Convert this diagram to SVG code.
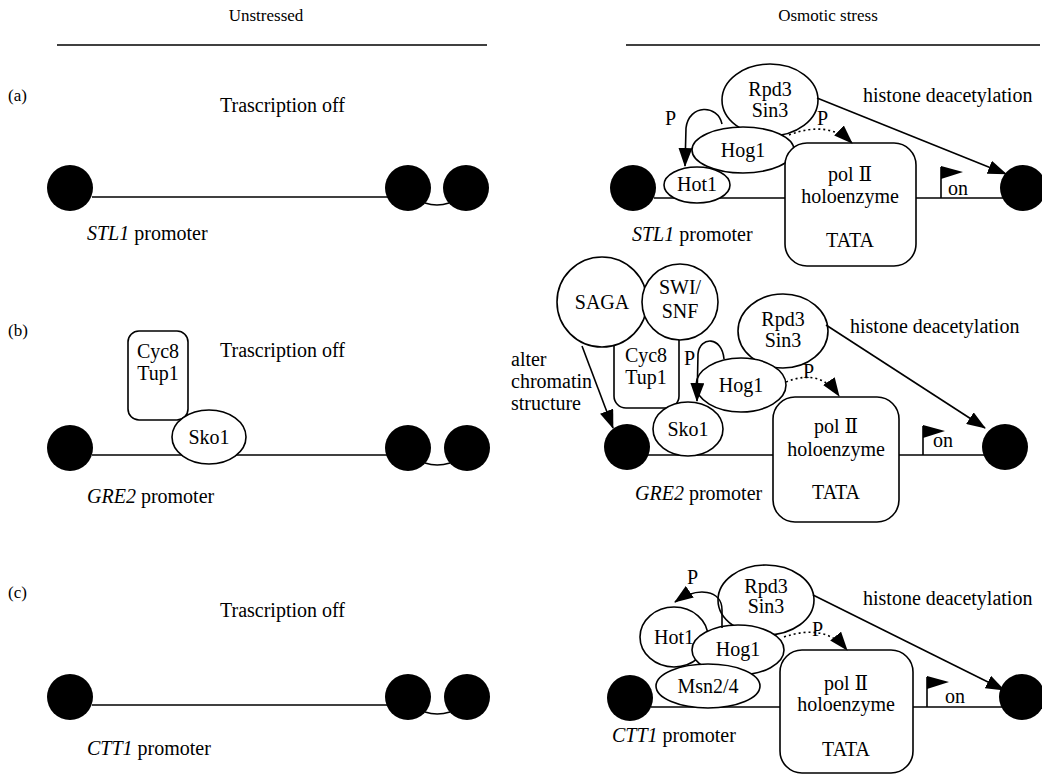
<svg xmlns="http://www.w3.org/2000/svg" width="1042" height="775" viewBox="0 0 1042 775" font-family="Liberation Serif, serif">
<defs>
<style>
text{font-family:'Liberation Serif',serif;font-size:20px;fill:#000}
.h{font-size:17px}
.m{text-anchor:middle}
.i{font-style:italic}
.nuc{fill:#000}
.o{fill:#fff;stroke:#000;stroke-width:1.6}
.ln{stroke:#000;stroke-width:1.6;fill:none}
.ar{stroke:#000;stroke-width:1.6;fill:none;marker-end:url(#ah)}
.dt{stroke:#000;stroke-width:1.6;fill:none;stroke-dasharray:2 3;marker-end:url(#ah)}
.fl{fill:#000}
.rn{font-family:'DejaVu Serif','Liberation Serif',serif}
</style>
<marker id="ah" markerUnits="userSpaceOnUse" markerWidth="20" markerHeight="14" refX="18" refY="7" orient="auto"><path d="M0,0 L19,7 L0,14 z"/></marker>
</defs>
<rect x="0" y="0" width="1042" height="775" fill="#fff"/>

<!-- headers -->
<g id="headers">
<text class="h m" x="266" y="21">Unstressed</text>
<line class="ln" x1="57" y1="45" x2="487" y2="45"/>
<text class="h m" x="828" y="21">Osmotic stress</text>
<line class="ln" x1="626" y1="45" x2="1040" y2="45"/>
<text class="h" x="8" y="101">(a)</text>
<text class="h" x="8" y="336">(b)</text>
<text class="h" x="8" y="598">(c)</text>
</g>

<!-- DNA strands -->
<g id="dna">
<line class="ln" x1="92" y1="197" x2="388" y2="197"/>
<line class="ln" x1="92" y1="455" x2="388" y2="455"/>
<line class="ln" x1="92" y1="705" x2="388" y2="705"/>
<line class="ln" x1="654" y1="198" x2="1003" y2="198"/>
<line class="ln" x1="648" y1="455" x2="985" y2="455"/>
<line class="ln" x1="651" y1="707" x2="1002" y2="707"/>
</g>

<!-- (a) unstressed -->
<g id="a-left">
<text x="220" y="112">Trascription off</text>
<circle class="nuc" cx="70" cy="188" r="23"/>
<circle class="nuc" cx="408" cy="188" r="23"/>
<circle class="nuc" cx="466" cy="188" r="23"/>
<text x="87" y="240"><tspan class="i">STL1</tspan> promoter</text>
</g>

<!-- (b) unstressed -->
<g id="b-left">
<text x="220" y="357">Trascription off</text>
<circle class="nuc" cx="70" cy="448" r="23"/>
<circle class="nuc" cx="408" cy="448" r="23"/>
<circle class="nuc" cx="467" cy="448" r="23"/>
<g id="b-left-cyc8">
<rect class="o" x="128" y="331" width="60" height="89" rx="11"/>
<text class="m" x="158" y="358">Cyc8</text>
<text class="m" x="158" y="380">Tup1</text>
</g>
<g id="b-left-sko1">
<ellipse class="o" cx="209" cy="437" rx="37" ry="27"/>
<text class="m" x="209" y="444">Sko1</text>
</g>
<text x="87" y="503"><tspan class="i">GRE2</tspan> promoter</text>
</g>

<!-- (c) unstressed -->
<g id="c-left">
<text x="220" y="617">Trascription off</text>
<circle class="nuc" cx="70" cy="697" r="23"/>
<circle class="nuc" cx="408" cy="697" r="23"/>
<circle class="nuc" cx="467" cy="697" r="23"/>
<text x="87" y="755"><tspan class="i">CTT1</tspan> promoter</text>
</g>

<!-- (a) osmotic stress -->
<g id="a-right">
<circle class="nuc" cx="633" cy="188" r="23"/>
<circle class="nuc" cx="1023" cy="188" r="23"/>
<g id="a-rpd3"><ellipse class="o" cx="770" cy="100" rx="48" ry="36"/>
<text class="m" x="770" y="96">Rpd3</text><text class="m" x="770" y="117">Sin3</text></g>
<g id="a-hog1"><ellipse class="o" cx="743" cy="150" rx="51" ry="23"/>
<text class="m" x="743" y="157">Hog1</text></g>
<g id="a-hot1"><ellipse class="o" cx="697" cy="185" rx="33" ry="18"/>
<text class="m" x="697" y="191">Hot1</text></g>
<g id="a-pol"><rect class="o" x="785" y="143" width="131" height="123" rx="22"/>
<text class="m" x="850" y="181">pol <tspan class="rn">Ⅱ</tspan></text>
<text class="m" x="850" y="203">holoenzyme</text>
<text class="m" x="850" y="247">TATA</text></g>
<text x="665" y="125">P</text>
<text x="817" y="125">P</text>
<text x="948" y="195">on</text>
<text x="863" y="102">histone deacetylation</text>
<text x="632" y="241"><tspan class="i">STL1</tspan> promoter</text>
</g>

<!-- (b) osmotic stress -->
<g id="b-right">
<circle class="nuc" cx="627" cy="447" r="23"/>
<circle class="nuc" cx="1005" cy="447" r="23"/>
<g id="b-cyc8"><rect class="o" x="614" y="315" width="65" height="93" rx="12"/>
<text class="m" x="646" y="362">Cyc8</text><text class="m" x="646" y="384">Tup1</text></g>
<g id="b-saga"><circle class="o" cx="602" cy="302" r="45"/>
<text class="m" x="602" y="309">SAGA</text></g>
<g id="b-swisnf"><circle class="o" cx="680" cy="302" r="38"/>
<text class="m" x="680" y="294">SWI/</text><text class="m" x="680" y="318">SNF</text></g>
<g id="b-rpd3"><ellipse class="o" cx="783" cy="331" rx="45" ry="37"/>
<text class="m" x="783" y="326">Rpd3</text><text class="m" x="783" y="347">Sin3</text></g>
<g id="b-hog1"><ellipse class="o" cx="741" cy="385" rx="45" ry="27"/>
<text class="m" x="741" y="392">Hog1</text></g>
<g id="b-sko1"><ellipse class="o" cx="688" cy="429" rx="35" ry="27"/>
<text class="m" x="688" y="436">Sko1</text></g>
<g id="b-pol"><rect class="o" x="773" y="397" width="126" height="125" rx="22"/>
<text class="m" x="836" y="433">pol <tspan class="rn">Ⅱ</tspan></text>
<text class="m" x="836" y="456">holoenzyme</text>
<text class="m" x="836" y="499">TATA</text></g>
<text x="684" y="365">P</text>
<text x="803" y="378">P</text>
<text x="933" y="447">on</text>
<text x="850" y="333">histone deacetylation</text>
<text x="511" y="366">alter</text>
<text x="511" y="388">chromatin</text>
<text x="511" y="410">structure</text>
<text x="635" y="500"><tspan class="i">GRE2</tspan> promoter</text>
</g>

<!-- (c) osmotic stress -->
<g id="c-right">
<circle class="nuc" cx="630" cy="698" r="23"/>
<circle class="nuc" cx="1022" cy="697" r="23"/>
<g id="c-rpd3"><ellipse class="o" cx="766" cy="600" rx="48" ry="35"/>
<text class="m" x="766" y="593">Rpd3</text><text class="m" x="766" y="613">Sin3</text></g>
<g id="c-hot1"><ellipse class="o" cx="674" cy="637" rx="34" ry="30"/>
<text class="m" x="674" y="644">Hot1</text></g>
<g id="c-hog1"><ellipse class="o" cx="738" cy="650" rx="46" ry="25"/>
<text class="m" x="738" y="656">Hog1</text></g>
<g id="c-msn"><ellipse class="o" cx="708" cy="686" rx="52" ry="22"/>
<text class="m" x="708" y="693">Msn2/4</text></g>
<g id="c-pol"><rect class="o" x="780" y="650" width="133" height="123" rx="22"/>
<text class="m" x="846" y="690">pol <tspan class="rn">Ⅱ</tspan></text>
<text class="m" x="846" y="711">holoenzyme</text>
<text class="m" x="846" y="756">TATA</text></g>
<text x="687" y="584">P</text>
<text x="812" y="636">P</text>
<text x="945" y="703">on</text>
<text x="863" y="605">histone deacetylation</text>
<text x="612" y="742"><tspan class="i">CTT1</tspan> promoter</text>
</g>

<!-- connectors -->
<g id="connectors">
<path class="ln" d="M425,203 Q437,207 449,203"/>
<path class="ln" d="M425,463 Q437,467 450,463"/>
<path class="ln" d="M425,712 Q437,716 450,712"/>
<path class="ar" d="M722,124 C718,104 689,104 686,128 L685,166"/>
<path class="dt" d="M789,135 Q828,120 852,143"/>
<path class="ar" d="M817,98 L1006,174"/>
<path class="ln" d="M941,198 V167"/>
<polygon class="fl" points="941,166 963,172 941,179"/>
<path class="ar" d="M724,359 C722,336 700,336 698,354 L697,401"/>
<path class="dt" d="M786,382 Q820,368 839,396"/>
<path class="ar" d="M826,325 L985,428"/>
<path class="ar" d="M582,346 L613,428"/>
<path class="ln" d="M923,455 V426"/>
<polygon class="fl" points="923,425 945,431 923,438"/>
<path class="ar" d="M722,628 L722,610 C722,590 698,586 675,602"/>
<path class="dt" d="M784,637 Q825,623 847,650"/>
<path class="ar" d="M813,595 L1004,690"/>
<path class="ln" d="M927,707 V677"/>
<polygon class="fl" points="927,676 949,682 927,689"/>
</g>
</svg>
